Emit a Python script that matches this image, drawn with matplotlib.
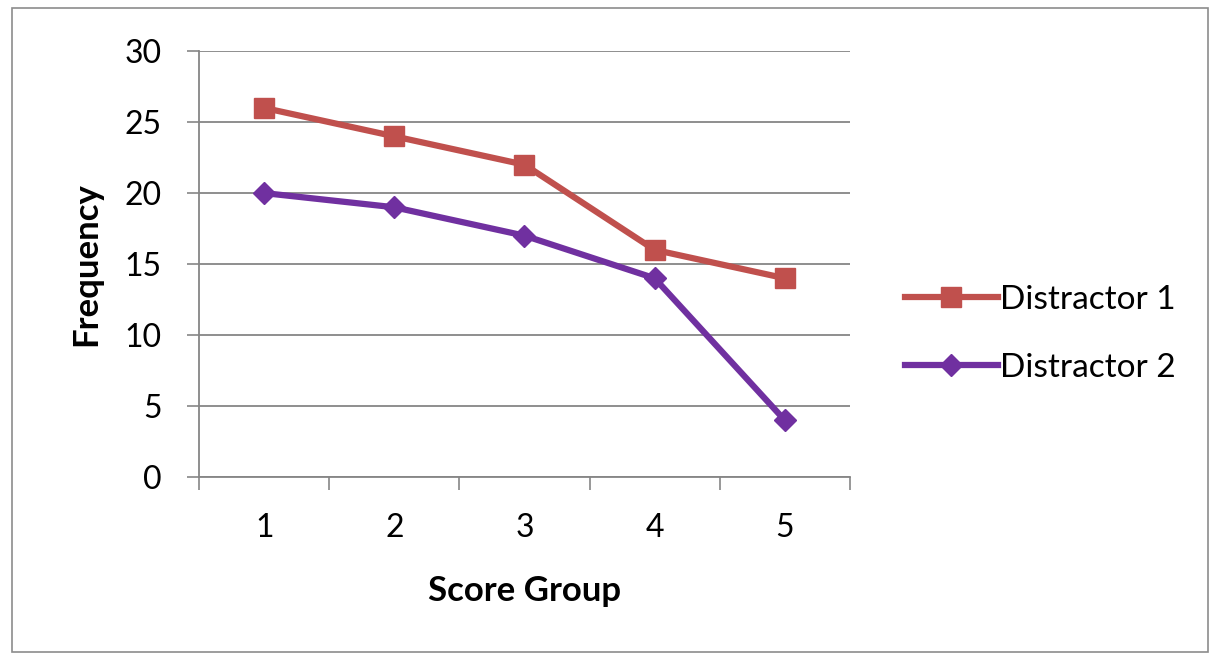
import numpy as np
import matplotlib
matplotlib.use("Agg")
from matplotlib import pyplot as plt
from matplotlib.patches import Rectangle

groups = [1, 2, 3, 4, 5]
distractor_1 = [26, 24, 22, 16, 14]
distractor_2 = [20, 19, 17, 14, 4]

plt.rcParams["font.family"] = ["Lato", "DejaVu Sans"]

fig = plt.figure(figsize=(12.14, 6.56), dpi=100)
ax = fig.add_axes([0.164, 0.273, 0.536, 0.649])

# outer chart frame
fig.patches.append(Rectangle((0.010, 0.006), 0.985, 0.982, transform=fig.transFigure,
                             fill=False, edgecolor="#8c8c8c", linewidth=1.2))

ax.plot(groups, distractor_1, color="#c0504d", linewidth=4.5, marker="s",
        markersize=14, label="Distractor 1")
ax.plot(groups, distractor_2, color="#7030a0", linewidth=4.5, marker="D",
        markersize=11, label="Distractor 2")

ax.set_xlim(0.5, 5.5)
ax.set_ylim(0, 30)
ax.set_yticks(np.arange(0, 31, 5))
ax.set_xticks(groups)
ax.set_xticks(np.arange(0.5, 5.6, 1), minor=True)
ax.tick_params(axis="x", which="major", length=0, pad=26, labelsize=23)
ax.tick_params(axis="x", which="minor", length=9, width=1.2, color="#868686", direction="out")
ax.tick_params(axis="y", length=9, width=1.2, color="#868686", direction="out", pad=18, labelsize=23)

ax.grid(axis="y", color="#868686", linewidth=1.3)
ax.set_axisbelow(True)
for s in ["top", "right"]:
    ax.spines[s].set_visible(False)
for s in ["left", "bottom"]:
    ax.spines[s].set_color("#868686")
    ax.spines[s].set_linewidth(1.3)

ax.set_xlabel("Score Group", fontsize=25, fontweight="bold", labelpad=23)
ax.set_ylabel("Frequency", fontsize=25, fontweight="bold", labelpad=16)

ax.legend(loc="center left", bbox_to_anchor=(1.038, 0.336), frameon=False, fontsize=24,
          handlelength=2.8, handletextpad=0.05, labelspacing=1.15, markerscale=1.0)

plt.savefig("out.png", dpi=100)
